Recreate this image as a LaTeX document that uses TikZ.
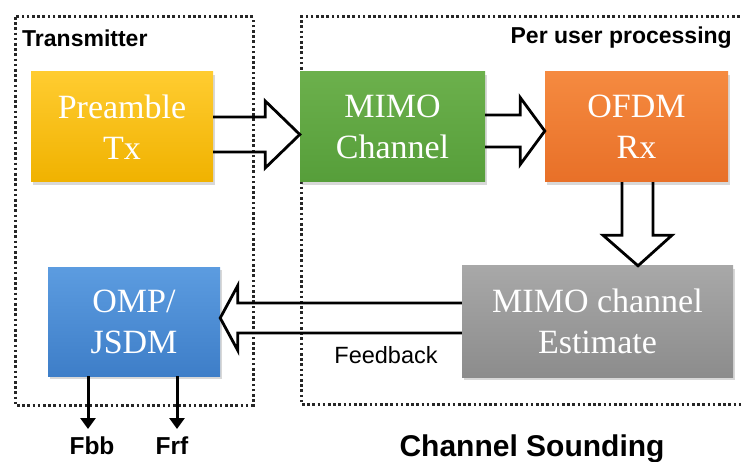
\documentclass[tikz,border=0pt]{standalone}
\usepackage{fontspec}
\setmainfont{Liberation Serif}
\newfontfamily\arialf{Liberation Sans}
\usetikzlibrary{calc,shadows,arrows.meta}
\begin{document}
\begin{tikzpicture}[x=1pt,y=-1pt,
  blockbox/.style={rectangle, inner sep=0pt, align=center, text=white,
    font=\fontsize{34}{41}\selectfont,
    drop shadow={opacity=0.3, shadow xshift=1.5pt, shadow yshift=-3pt}},
  dotbox/.style={line width=3pt, dash pattern=on 2.6pt off 2.6pt, black!85},
  fatarrow/.style={line width=2.8pt, line join=miter, black},
  lbl/.style={font=\arialf\bfseries\fontsize{23}{27}\selectfont, inner sep=0pt},
  thinarrow/.style={line width=3pt, -{Triangle[width=15pt,length=11pt]}}]
\useasboundingbox (0,0) rectangle (741,462);
\fill[white] (0,0) rectangle (741,462);
% dotted group frames
\draw[dotbox] (15,17) rectangle (253,405);
\draw[dotbox] (745,17) -- (301,17) -- (301,404) -- (745,404);
% labels of groups
\node[lbl, anchor=west] (txl) at (22,38) {Transmitter};
\node[lbl, anchor=east] (pul) at (732,38) {Per user processing};
% blocks
\node[blockbox, minimum width=182pt, minimum height=110pt,
  top color={rgb,255:red,255;green,204;blue,48}, bottom color={rgb,255:red,240;green,178;blue,0}]
  (pre) at (122,127) {Preamble\\Tx};
\node[blockbox, minimum width=185pt, minimum height=110pt,
  top color={rgb,255:red,108;green,176;blue,76}, bottom color={rgb,255:red,86;green,158;blue,58}]
  (mimo) at (392.5,127) {MIMO\\Channel};
\node[blockbox, minimum width=183pt, minimum height=110pt,
  top color={rgb,255:red,245;green,138;blue,64}, bottom color={rgb,255:red,232;green,112;blue,40}]
  (ofdm) at (636.5,127) {OFDM\\Rx};
\node[blockbox, minimum width=271pt, minimum height=111pt,
  top color={rgb,255:red,168;green,168;blue,168}, bottom color={rgb,255:red,140;green,140;blue,140}]
  (est) at (597.5,321.5) {MIMO channel\\Estimate};
\node[blockbox, minimum width=172pt, minimum height=109pt,
  top color={rgb,255:red,92;green,156;blue,224}, bottom color={rgb,255:red,62;green,126;blue,200}]
  (omp) at (134,321.5) {OMP/\\JSDM};
% fat open arrows
\coordinate (a1) at ($(pre.east)+(0,7.5)$);
\draw[fatarrow] ($(a1)+(0,-17.5)$) -- ++(52,0) -- ++(0,-16) -- ($(mimo.west)+(0,7.5)$)
  -- ($(a1)+(52,33.5)$) -- ++(0,-16) -- ($(a1)+(0,17.5)$);
\coordinate (a2) at ($(mimo.east)+(0,4)$);
\draw[fatarrow] ($(a2)+(0,-16)$) -- ++(35,0) -- ++(0,-17.5) -- ($(ofdm.west)+(0,4)$)
  -- ($(a2)+(35,33.5)$) -- ++(0,-17.5) -- ($(a2)+(0,16)$);
\coordinate (a3) at ($(ofdm.south)+(1,0)$);
\draw[fatarrow] ($(a3)+(-15.5,0)$) -- ++(0,53) -- ++(-19,0) -- ($(est.north)+(40.5,0)$)
  -- ($(a3)+(34.5,53)$) -- ++(-19,0) -- ($(a3)+(15.5,0)$);
\coordinate (a4) at ($(est.west)+(0,-3.5)$);
\draw[fatarrow] ($(a4)+(0,-15)$) -- ++(-224,0) -- ++(0,-17.5) -- ($(omp.east)+(0,-3.5)$)
  -- ($(a4)+(-224,32.5)$) -- ++(0,-17.5) -- ($(a4)+(0,15)$);
\node[font=\arialf\fontsize{23.5}{27}\selectfont, inner sep=0pt] (fb) at (386,355) {Feedback};
% outputs
\node[lbl, font=\arialf\bfseries\fontsize{24.5}{28}\selectfont] (fbb) at (92,446) {Fbb};
\node[lbl, font=\arialf\bfseries\fontsize{24.5}{28}\selectfont] (frf) at (172,446) {Frf};
\coordinate (fbbtip) at (88,429);
\coordinate (frftip) at (177,429);
\draw[thinarrow] (omp.south -| fbbtip) -- (fbbtip);
\draw[thinarrow] (omp.south -| frftip) -- (frftip);
\node[font=\arialf\bfseries\fontsize{30}{34}\selectfont, inner sep=0pt] (cs) at (532,449) {Channel Sounding};
\end{tikzpicture}
\end{document}
